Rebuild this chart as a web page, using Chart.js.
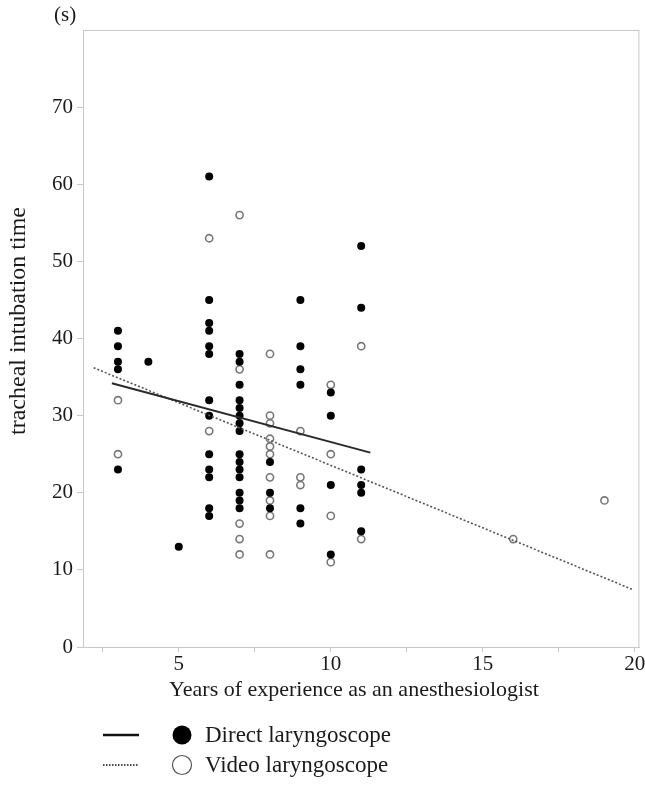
<!DOCTYPE html>
<html>
<head>
<meta charset="utf-8">
<script src="https://cdn.jsdelivr.net/npm/chart.js@4"></script>
<style>
  html, body { margin: 0; padding: 0; background: #fff; }
  #wrap { width: 645px; height: 804px; }
</style>
</head>
<body>
<div id="wrap"><canvas id="chart" width="645" height="804"></canvas></div>
<script>
// years of experience / intubation time (s)
const directYears = [3,3,3,3,3, 4, 5,
  6,6,6,6,6,6,6,6,6,6,6,6,6,
  7,7,7,7,7,7,7,7,7,7,7,7,7,7,7,
  8,8,8, 9,9,9,9,9,9, 10,10,10,10, 11,11,11,11,11,11];
const directTimes = [41,39,37,36,23, 37, 13,
  61,45,42,41,39,38,32,30,25,23,22,18,17,
  38,37,34,32,31,30,29,28,25,24,23,22,20,19,18,
  24,20,18, 45,39,36,34,18,16, 33,30,21,12, 52,44,23,21,20,15];

const videoYears = [3,3, 6,6, 7,7,7,7,7,
  8,8,8,8,8,8,8,8,8,8, 9,9,9, 10,10,10,10, 11,11, 16, 19];
const videoTimes = [32,25, 53,28, 56,36,16,14,12,
  38,30,29,27,26,25,22,19,17,12, 28,22,21, 34,25,17,11, 39,14, 14, 19];

// regression line endpoints
const directFitX = [2.8, 11.3];
const directFitY = [34.2, 25.2];
const videoFitX = [2.2, 19.9];
const videoFitY = [36.2, 7.5];

const xTicks = [2.5, 5, 7.5, 10, 12.5, 15, 17.5, 20];
const yTicks = [0, 10, 20, 30, 40, 50, 60, 70];

const xTitle = 'Years of experience as an anesthesiologist';
const yTitle = 'tracheal intubation time';
const unitLabel = '(s)';
const legendItems = ['Direct laryngoscope', 'Video laryngoscope'];

const pts = (xs, ys) => xs.map((x, i) => ({ x: x, y: ys[i] }));
const FONT = '"Liberation Serif", "Times New Roman", serif';
const INK = '#1a1a1a';

const frame = {
  id: 'frame',
  afterDatasetsDraw(chart) {
    const { ctx, chartArea: a } = chart;
    ctx.save();
    ctx.strokeStyle = '#c8c8c8';
    ctx.lineWidth = 1;
    ctx.strokeRect(a.left + 0.5, a.top + 0.5, a.right - a.left - 1, a.bottom - a.top);
    ctx.restore();
  },
  afterDraw(chart) {
    const ctx = chart.ctx;
    ctx.save();
    ctx.fillStyle = INK;
    ctx.textBaseline = 'middle';
    ctx.font = '21px ' + FONT;
    ctx.fillText(unitLabel, 54, 15);

    // axis titles
    ctx.font = '22px ' + FONT;
    ctx.textAlign = 'center';
    ctx.fillText(xTitle, 354, 690);
    ctx.save();
    ctx.translate(19, 321);
    ctx.rotate(-Math.PI / 2);
    ctx.font = '24px ' + FONT;
    ctx.fillText(yTitle, 0, 0);
    ctx.restore();

    // legend
    ctx.textAlign = 'left';
    ctx.font = '23px ' + FONT;
    const rows = [735, 765];
    rows.forEach((y, i) => {
      ctx.beginPath();
      ctx.strokeStyle = '#111';
      if (i === 0) { ctx.lineWidth = 2.5; ctx.setLineDash([]); }
      else { ctx.lineWidth = 1.5; ctx.setLineDash([1.5, 1.5]); }
      ctx.moveTo(103, y); ctx.lineTo(139, y);
      ctx.stroke();
      ctx.setLineDash([]);
      ctx.beginPath();
      ctx.arc(182, y, 9.5, 0, Math.PI * 2);
      if (i === 0) { ctx.fillStyle = '#000'; ctx.fill(); }
      else { ctx.lineWidth = 1.2; ctx.strokeStyle = '#555'; ctx.stroke(); }
      ctx.fillStyle = INK;
      ctx.fillText(legendItems[i], 205, y + 1);
    });
    ctx.restore();
  }
};

new Chart(document.getElementById('chart'), {
  type: 'scatter',
  data: {
    datasets: [
      {
        type: 'line',
        label: 'Direct fit',
        data: pts(directFitX, directFitY),
        borderColor: '#2a2a2a',
        borderWidth: 2,
        pointRadius: 0,
        fill: false
      },
      {
        type: 'line',
        label: 'Video fit',
        data: pts(videoFitX, videoFitY),
        borderColor: '#555',
        borderWidth: 1.6,
        borderDash: [2, 2],
        pointRadius: 0,
        fill: false
      },
      {
        label: 'Direct laryngoscope',
        data: pts(directYears, directTimes),
        backgroundColor: '#000',
        borderColor: '#000',
        pointRadius: 4,
        borderWidth: 0
      },
      {
        label: 'Video laryngoscope',
        data: pts(videoYears, videoTimes),
        backgroundColor: '#fff',
        borderColor: '#777',
        pointRadius: 3.6,
        borderWidth: 1.6
      }
    ]
  },
  options: {
    responsive: false,
    animation: false,
    devicePixelRatio: 1,
    layout: { padding: { top: 30, right: 5, bottom: 93, left: 0 } },
    plugins: { legend: { display: false }, tooltip: { enabled: false } },
    scales: {
      x: {
        type: 'linear',
        min: 1.85,
        max: 20.15,
        afterBuildTicks: s => { s.ticks = xTicks.map(v => ({ value: v })); },
        afterFit: s => { s.height = 64; s.paddingLeft = 0; s.paddingRight = 0; },
        grid: { drawOnChartArea: false, tickLength: 5, color: '#c8c8c8' },
        border: { color: '#c8c8c8' },
        ticks: {
          color: INK,
          padding: 0,
          font: { family: FONT, size: 21 },
          callback: v => (v % 5 === 0 ? String(v) : '')
        }
      },
      y: {
        min: 0,
        max: 80,
        afterBuildTicks: s => { s.ticks = yTicks.map(v => ({ value: v })); },
        afterFit: s => { s.width = 83; s.paddingTop = 0; s.paddingBottom = 0; },
        grid: { drawOnChartArea: false, tickLength: 6, color: '#c8c8c8' },
        border: { color: '#c8c8c8' },
        ticks: {
          color: INK,
          padding: 4,
          font: { family: FONT, size: 21 }
        }
      }
    }
  },
  plugins: [frame]
});
</script>
</body>
</html>
